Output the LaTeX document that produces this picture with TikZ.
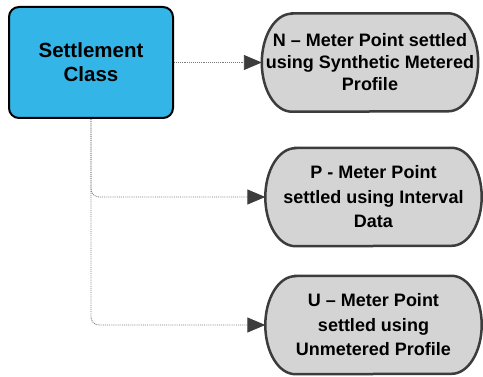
\documentclass[tikz,border=0pt]{standalone}
\usepackage{fontspec}
\setmainfont{Liberation Sans}
\usetikzlibrary{arrows.meta,backgrounds}

\definecolor{classblue}{HTML}{33B5E8}
\definecolor{profilegray}{HTML}{D4D4D4}
\definecolor{edgegray}{HTML}{3C3C3C}
\definecolor{linkgray}{HTML}{7A7A7A}

\tikzset{
  classbox/.style={draw=black, line width=2pt, fill=classblue, rounded corners=10pt,
    minimum width=164pt, minimum height=111pt, inner sep=0pt, align=center,
    font=\fontsize{20.5}{24}\selectfont\bfseries},
  profilebox/.style={minimum width=216pt, minimum height=98pt, inner sep=0pt, align=center,
    font=\fontsize{18}{24.5}\selectfont\bfseries},
  profileedge/.style={draw=edgegray, line width=2.5pt, fill=profilegray},
  link/.style={draw=linkgray, densely dotted, line width=0.9pt, rounded corners=8pt,
    -{Triangle[length=18pt,width=15pt,color=edgegray]}}
}

\begin{document}
\begin{tikzpicture}[x=1pt,y=-1pt]
        \useasboundingbox (0,0) rectangle (483,377);

        \node[classbox] (settle) at (91,62.5) {Settlement\\Class};

        \node[profilebox, font=\fontsize{18}{22}\selectfont\bfseries] (nmeter) at (370,62.5)
          {N -- Meter Point settled\\using Synthetic Metered\\Profile};
        \node[profilebox] (pmeter) at (373.5,197) {P - Meter Point\\settled using Interval\\Data};
        \node[profilebox] (umeter) at (373.5,325) {U -- Meter Point\\settled using\\Unmetered Profile};

        \begin{scope}[on background layer]
          \foreach \n in {nmeter,pmeter,umeter}
          {\path[profileedge] ([xshift=30pt]\n.north west) -- ([xshift=-30pt]\n.north east)
              arc[start angle=90, end angle=-90, x radius=30pt, y radius=49pt]
              -- ([xshift=30pt]\n.south west)
              arc[start angle=270, end angle=90, x radius=30pt, y radius=49pt] -- cycle;}
        \end{scope}

        \draw[link] (settle.east) -- (nmeter.west);
        \draw[link] (settle.south) |- (pmeter.west);
        \draw[link] (settle.south) |- (umeter.west);
      \end{tikzpicture}
\end{document}
